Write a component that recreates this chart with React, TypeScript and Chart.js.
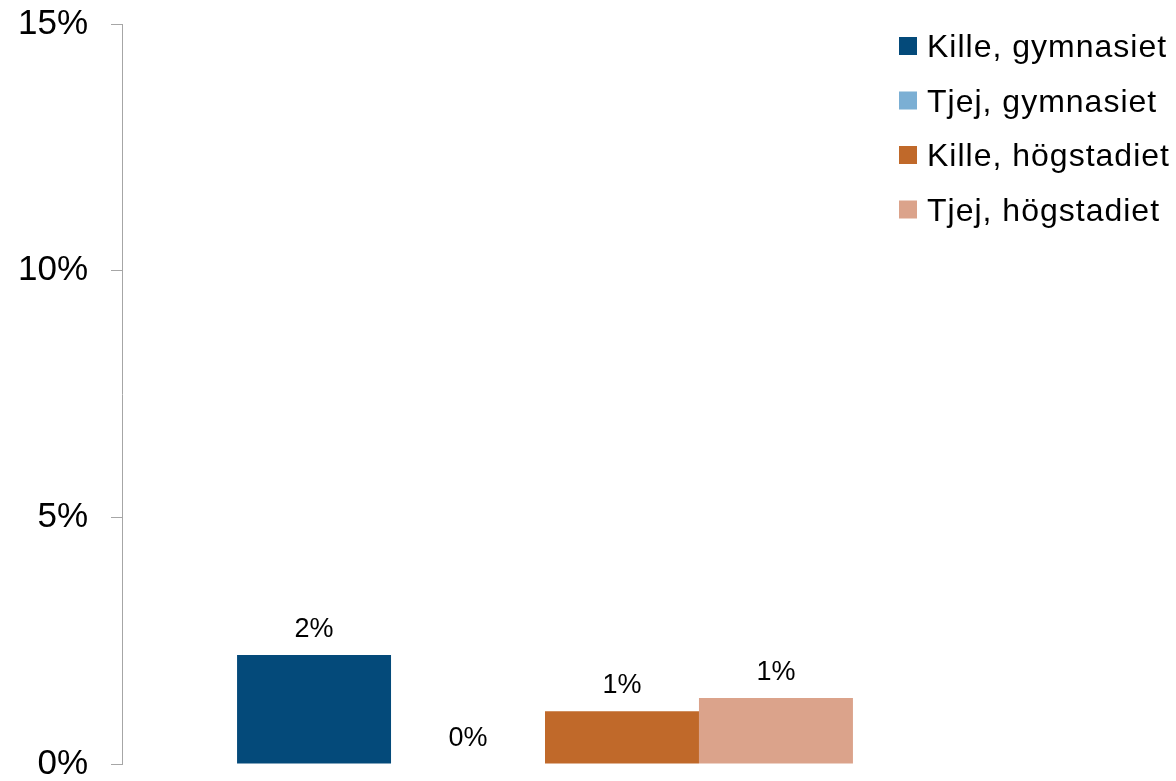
import React, { useEffect, useRef } from "react";
import { Chart, registerables } from "chart.js";

Chart.register(...registerables);

const categories = ["Andel"];
const seriesLabels = ["Kille, gymnasiet", "Tjej, gymnasiet", "Kille, högstadiet", "Tjej, högstadiet"];
const killeGymnasiet = [2.21];
const tjejGymnasiet = [0];
const killeHogstadiet = [1.07];
const tjejHogstadiet = [1.34];
const seriesColors = ["#044A7A", "#7BAFD4", "#C0692A", "#DBA38B"];
const yTicks = [0, 5, 10, 15];

const FONT = "'Liberation Sans', Arial, sans-serif";

const dataLabelPlugin = {
  id: "dataLabels",
  afterDatasetsDraw(chart: any) {
    const ctx = chart.ctx;
    ctx.save();
    ctx.font = `27px ${FONT}`;
    ctx.fillStyle = "#000000";
    ctx.textAlign = "center";
    ctx.textBaseline = "alphabetic";
    chart.data.datasets.forEach((ds: any, di: number) => {
      const meta = chart.getDatasetMeta(di);
      meta.data.forEach((el: any, i: number) => {
        const v = ds.data[i];
        ctx.fillText(`${Math.round(v)}%`, el.x, el.y - 18);
      });
    });
    ctx.restore();
  },
};

const legendPlugin = {
  id: "customLegend",
  afterDraw(chart: any) {
    const ctx = chart.ctx;
    ctx.save();
    ctx.font = `32px ${FONT}`;
    try {
      (ctx as any).letterSpacing = "1px";
    } catch (e) {}
    ctx.textAlign = "left";
    ctx.textBaseline = "alphabetic";
    chart.data.datasets.forEach((ds: any, i: number) => {
      const cy = 46 + i * 54.5;
      ctx.fillStyle = ds.backgroundColor;
      ctx.fillRect(899, cy - 9, 18, 18);
      ctx.fillStyle = "#000000";
      ctx.fillText(ds.label, 927, cy + 11);
    });
    ctx.restore();
  },
};

export default function App() {
  const canvasRef = useRef<HTMLCanvasElement | null>(null);

  useEffect(() => {
    if (!canvasRef.current) return;
    const seriesData = [killeGymnasiet, tjejGymnasiet, killeHogstadiet, tjejHogstadiet];
    const chart = new Chart(canvasRef.current, {
      type: "bar",
      data: {
        labels: categories,
        datasets: seriesLabels.map((label, i) => ({
          label,
          data: seriesData[i],
          backgroundColor: seriesColors[i],
          borderWidth: 0,
          categoryPercentage: 0.728,
          barPercentage: 1.0,
        })),
      },
      options: {
        animation: false,
        responsive: true,
        maintainAspectRatio: false,
        layout: { padding: { left: 0, top: 24, right: 208, bottom: 17 } },
        plugins: {
          legend: { display: false },
          tooltip: { enabled: false },
          title: { display: false },
        },
        scales: {
          x: { display: false },
          y: {
            min: 0,
            max: 15,
            afterBuildTicks: (scale: any) => {
              scale.ticks = yTicks.map((v) => ({ value: v }));
            },
            afterFit: (scale: any) => {
              scale.width = 122;
              scale.paddingTop = 0;
              scale.paddingBottom = 0;
            },
            ticks: {
              callback: (v: any) => `${v}%`,
              font: { family: FONT, size: 35 },
              color: "#000000",
              padding: 23,
            },
            grid: {
              drawOnChartArea: false,
              drawTicks: true,
              tickLength: 11,
              color: "#A6A6A6",
            },
            border: { display: true, color: "#A6A6A6", width: 1 },
          },
        },
      },
      plugins: [dataLabelPlugin, legendPlugin],
    });
    return () => chart.destroy();
  }, []);

  return (
    <div style={{ position: "absolute", left: 0, top: 0, width: 1176, height: 781, background: "#ffffff" }}>
      <canvas ref={canvasRef} />
    </div>
  );
}
